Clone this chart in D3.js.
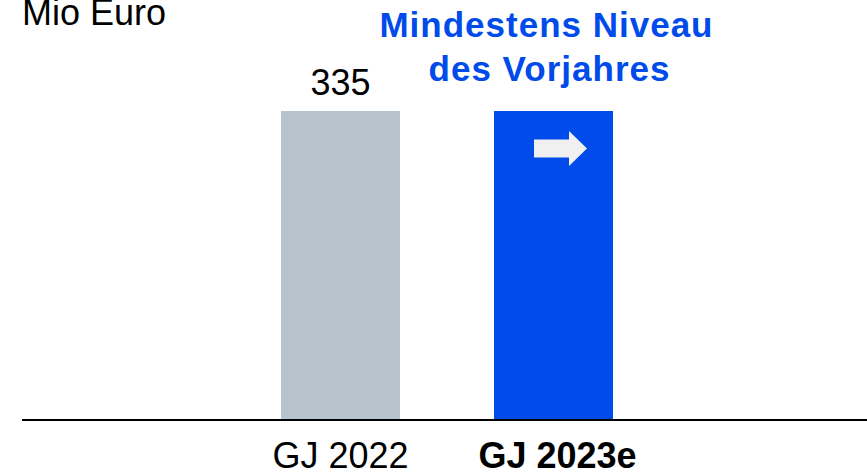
<!DOCTYPE html>
<html>
<head>
<meta charset="utf-8">
<script src="https://cdn.jsdelivr.net/npm/d3@7"></script>
<style>
  html, body { margin: 0; padding: 0; background: #fff; }
  svg { display: block; font-family: "Liberation Sans", Arial, Helvetica, sans-serif; }
</style>
</head>
<body>
<svg id="chart" width="867" height="472"></svg>
<script>
const categories = ["GJ 2022", "GJ 2023e"];
const values = [335, 335];
const valueLabels = ["335", ""];
const boldCategory = [false, true];
const barColors = ["#b7c4cd", "#004be9"];
const unitLabel = "Mio Euro";
const annotationLines = ["Mindestens Niveau", "des Vorjahres"];

const W = 867, H = 472;
const svg = d3.select("#chart");

const x = d3.scaleBand()
  .domain(categories)
  .range([234, 660])
  .paddingInner(0.4413)
  .paddingOuter(0.4413 / 2);

const y = d3.scaleLinear()
  .domain([0, 335])
  .range([419, 111]);

// bars
svg.selectAll("rect.bar")
  .data(categories)
  .join("rect")
  .attr("class", "bar")
  .attr("x", d => x(d))
  .attr("width", x.bandwidth())
  .attr("y", (d, i) => y(values[i]))
  .attr("height", (d, i) => y(0) - y(values[i]))
  .attr("fill", (d, i) => barColors[i]);

// baseline axis
const axis = d3.axisBottom(x).tickSize(0).tickPadding(0);
const gAxis = svg.append("g").attr("transform", `translate(0,${y(0) + 1})`).call(axis);
gAxis.select(".domain").remove();
gAxis.append("line")
  .attr("x1", 22).attr("x2", W)
  .attr("y1", 0).attr("y2", 0)
  .attr("stroke", "#000").attr("stroke-width", 2);
gAxis.selectAll(".tick text")
  .attr("y", 48)
  .attr("dy", 0)
  .attr("dx", (d, i) => boldCategory[i] ? 4 : 0)
  .attr("fill", "#000")
  .style("font-size", "36px")
  .style("font-family", '"Liberation Sans", Arial, Helvetica, sans-serif')
  .style("font-weight", (d, i) => boldCategory[i] ? "bold" : "normal");

// value labels
svg.selectAll("text.val")
  .data(categories)
  .join("text")
  .attr("class", "val")
  .attr("x", d => x(d) + x.bandwidth() / 2)
  .attr("y", (d, i) => y(values[i]) - 16)
  .attr("text-anchor", "middle")
  .attr("font-size", 36)
  .attr("fill", "#000")
  .text((d, i) => valueLabels[i]);

// unit label
svg.append("text")
  .attr("x", 22).attr("y", 25)
  .attr("font-size", 36)
  .attr("fill", "#000")
  .text(unitLabel);

// annotation above forecast bar
const cx2 = x(categories[1]) + x.bandwidth() / 2;
svg.selectAll("text.ann")
  .data(annotationLines)
  .join("text")
  .attr("class", "ann")
  .attr("x", (d, i) => cx2 - 7 + i * 3)
  .attr("y", (d, i) => 37 + i * 44)
  .attr("text-anchor", "middle")
  .attr("font-size", 35)
  .attr("font-weight", "bold")
  .attr("letter-spacing", "1px")
  .attr("fill", barColors[1])
  .text(d => d);

// arrow inside forecast bar
const ax0 = x(categories[1]) + 40;
const ay = y(values[1]) + 37.5;
const arrow = d3.path();
arrow.moveTo(ax0, ay - 9);
arrow.lineTo(ax0 + 35, ay - 9);
arrow.lineTo(ax0 + 35, ay - 17.5);
arrow.lineTo(ax0 + 53, ay);
arrow.lineTo(ax0 + 35, ay + 17.5);
arrow.lineTo(ax0 + 35, ay + 9);
arrow.lineTo(ax0, ay + 9);
arrow.closePath();
svg.append("path").attr("d", arrow.toString()).attr("fill", "#f0f0f0");
</script>
</body>
</html>
